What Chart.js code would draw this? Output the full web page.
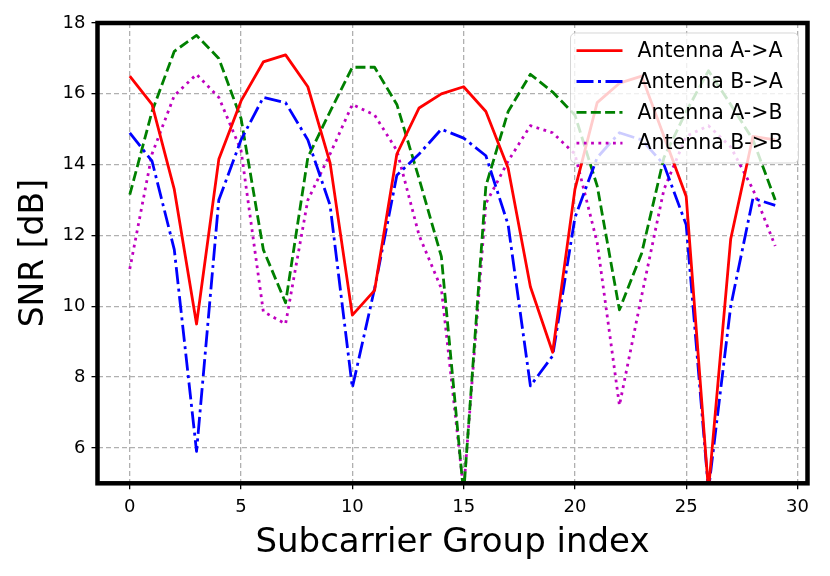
<!DOCTYPE html>
<html>
<head>
<meta charset="utf-8">
<script src="https://cdn.jsdelivr.net/npm/chart.js@4.4.1/dist/chart.umd.min.js"></script>
<style>
  html, body { margin: 0; padding: 0; background: #fff; }
</style>
</head>
<body>
<canvas id="snrChart" width="830" height="576"></canvas>
<script>
// subcarrier group index (x)
const groupIndex = [0, 1, 2, 3, 4, 5, 6, 7, 8, 9, 10, 11, 12, 13, 14, 15, 16, 17, 18, 19, 20, 21, 22, 23, 24, 25, 26, 27, 28, 29];

// SNR [dB] per antenna pair
const snrAA = [16.5, 15.7, 13.3, 9.5, 14.15, 15.8, 16.9, 17.1, 16.2, 14.05, 9.75, 10.45, 14.3, 15.6, 16.0, 16.2, 15.5, 13.9, 10.55, 8.7, 13.3, 15.75, 16.3, 16.5, 14.8, 13.1, 4.8, 11.9, 14.8, 14.7];
const snrBA = [14.9, 14.1, 11.6, 5.9, 13.0, 14.7, 15.9, 15.75, 14.7, 12.85, 7.7, 10.5, 13.7, 14.3, 15.0, 14.75, 14.25, 12.3, 7.75, 8.6, 12.5, 14.2, 14.9, 14.7, 14.0, 12.3, 4.8, 10.0, 13.05, 12.85];
const snrAB = [13.15, 15.5, 17.2, 17.65, 17.0, 15.3, 11.6, 10.1, 14.2, 15.5, 16.75, 16.75, 15.7, 13.6, 11.4, 4.7, 13.4, 15.5, 16.55, 16.05, 15.4, 13.4, 9.9, 11.5, 14.2, 15.5, 16.65, 15.7, 14.7, 13.0];
const snrBB = [11.05, 14.3, 15.95, 16.55, 15.9, 14.4, 9.85, 9.5, 13.0, 14.3, 15.7, 15.4, 14.4, 12.0, 10.5, 4.8, 12.9, 14.1, 15.1, 14.9, 14.3, 11.8, 7.2, 10.3, 13.3, 14.8, 15.1, 14.5, 13.3, 11.7];

const seriesNames = ['Antenna A->A', 'Antenna B->A', 'Antenna A->B', 'Antenna B->B'];

// tick labels
const xTicks = [0, 5, 10, 15, 20, 25, 30];
const yTicks = [6, 8, 10, 12, 14, 16, 18];

const FONT = "'DejaVu Sans', sans-serif";

function toPoints(values) {
  return groupIndex.map((g, i) => ({ x: g, y: values[i] }));
}

// spines + matplotlib-like legend box drawn over the lines
const frameAndLegend = {
  id: 'frameAndLegend',
  afterDatasetsDraw(chart) {
    const { ctx, chartArea } = chart;
    ctx.save();
    ctx.lineWidth = 4.5;
    ctx.strokeStyle = '#000';
    ctx.setLineDash([]);
    ctx.strokeRect(chartArea.left, chartArea.top, chartArea.right - chartArea.left, chartArea.bottom - chartArea.top);

    const w = 228, h = 130, r = 5;
    const x0 = chartArea.right - 9 - w;
    const y0 = chartArea.top + 10;
    ctx.beginPath();
    ctx.moveTo(x0 + r, y0);
    ctx.lineTo(x0 + w - r, y0);
    ctx.arcTo(x0 + w, y0, x0 + w, y0 + r, r);
    ctx.lineTo(x0 + w, y0 + h - r);
    ctx.arcTo(x0 + w, y0 + h, x0 + w - r, y0 + h, r);
    ctx.lineTo(x0 + r, y0 + h);
    ctx.arcTo(x0, y0 + h, x0, y0 + h - r, r);
    ctx.lineTo(x0, y0 + r);
    ctx.arcTo(x0, y0, x0 + r, y0, r);
    ctx.closePath();
    ctx.fillStyle = 'rgba(255,255,255,0.8)';
    ctx.fill();
    ctx.lineWidth = 1;
    ctx.strokeStyle = 'rgba(204,204,204,0.8)';
    ctx.stroke();

    ctx.font = '20.5px ' + FONT;
    ctx.textBaseline = 'middle';
    ctx.textAlign = 'left';
    chart.data.datasets.forEach((ds, i) => {
      const y = y0 + 17.7 + i * 30.8;
      ctx.beginPath();
      ctx.lineWidth = ds.borderWidth;
      ctx.strokeStyle = ds.borderColor;
      ctx.setLineDash(ds.borderDash || []);
      ctx.moveTo(x0 + 6, y);
      ctx.lineTo(x0 + 52, y);
      ctx.stroke();
      ctx.setLineDash([]);
      ctx.fillStyle = '#000';
      ctx.fillText(ds.label, x0 + 67, y + 1);
    });
    ctx.restore();
  }
};

const ctx = document.getElementById('snrChart').getContext('2d');
new Chart(ctx, {
  type: 'line',
  data: {
    datasets: [
      { label: seriesNames[0], data: toPoints(snrAA), borderColor: '#ff0000', borderWidth: 2.8, borderDash: [] },
      { label: seriesNames[1], data: toPoints(snrBA), borderColor: '#0000ff', borderWidth: 2.8, borderDash: [17, 4.5, 3, 4.5] },
      { label: seriesNames[2], data: toPoints(snrAB), borderColor: '#008000', borderWidth: 2.8, borderDash: [10, 4.3] },
      { label: seriesNames[3], data: toPoints(snrBB), borderColor: '#bf00bf', borderWidth: 2.8, borderDash: [2.8, 4.5] },
    ],
  },
  options: {
    responsive: false,
    animation: false,
    devicePixelRatio: 1,
    layout: { padding: { left: 0, top: 23, right: 22.5, bottom: 0 } },
    elements: {
      point: { radius: 0, hoverRadius: 0 },
      line: { tension: 0, fill: false, borderCapStyle: 'butt', borderJoinStyle: 'round' },
    },
    plugins: {
      legend: { display: false },
      tooltip: { enabled: false },
    },
    scales: {
      x: {
        type: 'linear',
        min: -1.45,
        max: 30.45,
        afterBuildTicks: (scale) => { scale.ticks = xTicks.map(v => ({ value: v })); },
        afterFit: (scale) => { scale.height = 92.7; },
        grid: {
          color: '#b0b0b0',
          lineWidth: 1.3,
          tickColor: '#000',
          tickLength: 6,
          tickWidth: 1.3,
          tickBorderDash: [8, 0],
        },
        border: { display: false, dash: [5, 3] },
        ticks: {
          color: '#000',
          font: { family: FONT, size: 18 },
          padding: 7,
          maxRotation: 0,
          callback: (v) => String(v),
        },
        title: {
          display: true,
          text: 'Subcarrier Group index',
          color: '#000',
          font: { family: FONT, size: 34 },
          padding: { top: 0, bottom: 12 },
        },
      },
      y: {
        type: 'linear',
        min: 5,
        max: 18,
        afterBuildTicks: (scale) => { scale.ticks = yTicks.map(v => ({ value: v })); },
        afterFit: (scale) => { scale.width = 97.5; },
        grid: {
          color: '#b0b0b0',
          lineWidth: 1.3,
          tickColor: '#000',
          tickLength: 6,
          tickWidth: 1.3,
          tickBorderDash: [8, 0],
        },
        border: { display: false, dash: [5, 3] },
        ticks: {
          color: '#000',
          font: { family: FONT, size: 18 },
          padding: 6,
          callback: (v) => String(v),
        },
        title: {
          display: true,
          text: 'SNR [dB]',
          color: '#000',
          font: { family: FONT, size: 33 },
          padding: { top: 15, bottom: 0 },
        },
      },
    },
  },
  plugins: [frameAndLegend],
});
</script>
</body>
</html>
